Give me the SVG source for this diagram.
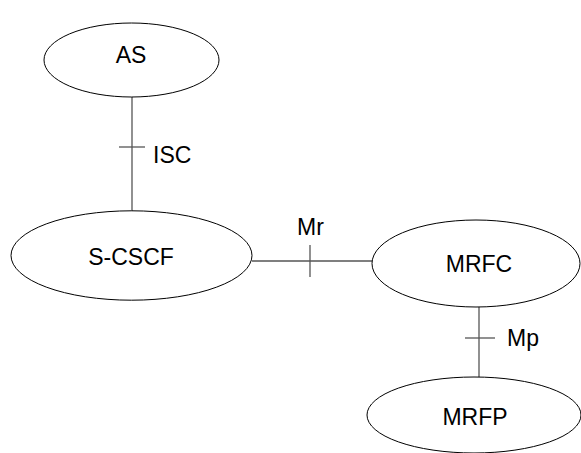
<svg xmlns="http://www.w3.org/2000/svg" width="581" height="453" viewBox="0 0 581 453">
<style>
.node{fill:#fff;stroke:#000;stroke-width:1}
.lbl{font-family:"Liberation Sans",Arial,sans-serif;font-size:23px;fill:#000}
.conn line{stroke:#555;stroke-width:1.3}
</style>
<rect width="581" height="453" fill="#fff"/>
<g id="connectors" class="conn">
<line x1="132" y1="97" x2="132" y2="211"/>
<line x1="119" y1="147" x2="145" y2="147"/>
<line x1="252" y1="261" x2="372" y2="261"/>
<line x1="310" y1="245" x2="310" y2="277"/>
<line x1="479" y1="307" x2="479" y2="377"/>
<line x1="465" y1="338" x2="495" y2="338"/>
</g>
<g id="labels">
<text class="lbl" x="153" y="163">ISC</text>
<text class="lbl" x="297" y="235">Mr</text>
<text class="lbl" x="507" y="346">Mp</text>
</g>
<g id="AS">
<ellipse class="node" cx="131.5" cy="60" rx="87.5" ry="37"/>
<text class="lbl" x="131" y="63" text-anchor="middle">AS</text>
</g>
<g id="S-CSCF">
<ellipse class="node" cx="131.5" cy="255.5" rx="120.5" ry="44.7"/>
<text class="lbl" x="131" y="265" text-anchor="middle">S-CSCF</text>
</g>
<g id="MRFC">
<ellipse class="node" cx="476" cy="263.5" rx="104" ry="43.5"/>
<text class="lbl" x="479" y="272" text-anchor="middle">MRFC</text>
</g>
<g id="MRFP">
<ellipse class="node" cx="474" cy="415" rx="107" ry="38"/>
<text class="lbl" x="475" y="425" text-anchor="middle">MRFP</text>
</g>
</svg>
